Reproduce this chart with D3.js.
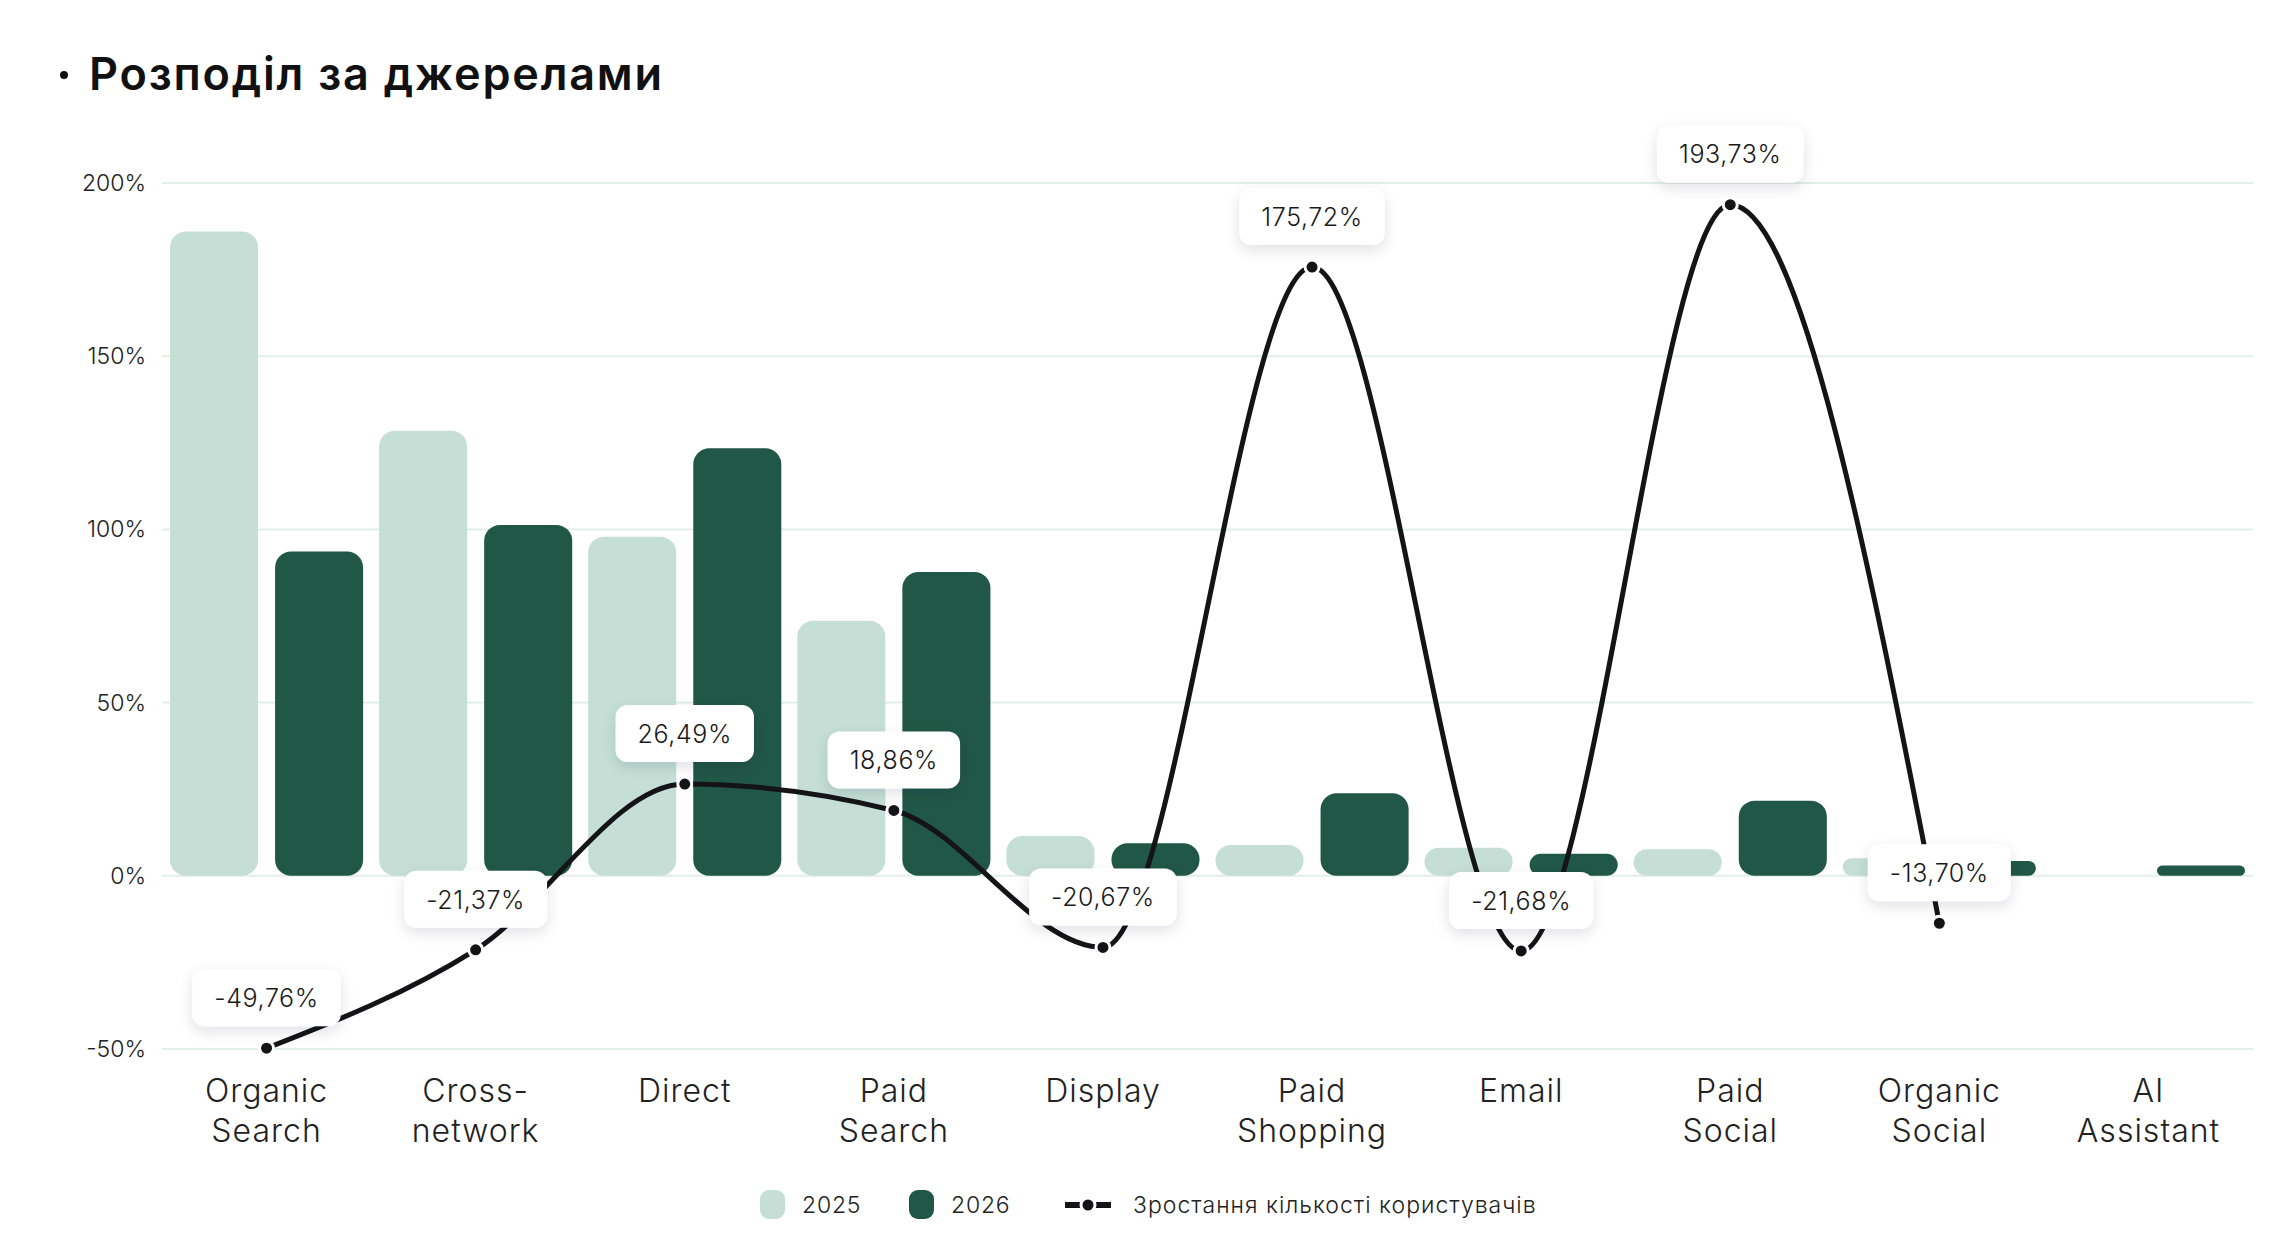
<!DOCTYPE html>
<html>
<head>
<meta charset="utf-8">
<script src="https://cdn.jsdelivr.net/npm/d3@7"></script>
<style>
  body { margin: 0; background: #fff; }
  text { font-family: "Inter", "Noto Sans", sans-serif; }
</style>
</head>
<body>
<div id="chart"></div>
<script>
// Chart Data
const categories = ["Organic Search", "Cross-network", "Direct", "Paid Search", "Display", "Paid Shopping", "Email", "Paid Social", "Organic Social", "AI Assistant"];
const categoryLines = [["Organic", "Search"], ["Cross-", "network"], ["Direct"], ["Paid", "Search"], ["Display"], ["Paid", "Shopping"], ["Email"], ["Paid", "Social"], ["Organic", "Social"], ["AI", "Assistant"]];
const values2025 = [186, 128.5, 97.9, 73.6, 11.5, 8.9, 8.1, 7.7, 5.1, 0];
const values2026 = [93.6, 101.3, 123.4, 87.7, 9.4, 23.8, 6.4, 21.7, 4.3, 3];
const growth = [-49.76, -21.37, 26.49, 18.86, -20.67, 175.72, -21.68, 193.73, -13.70, null];
const yTicks = [-50, 0, 50, 100, 150, 200];
const seriesNames = ["2025", "2026"];
const lineName = "Зростання кількості користувачів";

// Dimensions For SVG Element
let w = 2296, h = 1246;
let svg = d3.select("#chart").append("svg").attr("width", w).attr("height", h);

// Shadow For Value Labels
let defs = svg.append("defs");
defs.append("filter").attr("id", "shadow").attr("x", "-30%").attr("y", "-40%").attr("width", "160%").attr("height", "200%")
  .append("feDropShadow").attr("dx", 0).attr("dy", 5).attr("stdDeviation", 7)
  .attr("flood-color", "#1a1a3a").attr("flood-opacity", 0.12);

let colors = { "2025": "#c5dfd6", "2026": "#215746" };

// Title
svg.append("circle").attr("cx", 64).attr("cy", 75).attr("r", 4).attr("fill", "#111");
svg.append("text").attr("x", 89).attr("y", 90).attr("font-size", 45).attr("font-weight", 600)
  .attr("letter-spacing", 1.8).attr("fill", "#111").text("Розподіл за джерелами");

// Scales
let x = d3.scaleBand().domain(categories).range([162, 2253]).padding(0);
let xSub = d3.scaleBand().domain(seriesNames).range([0, x.bandwidth()]).paddingInner(0.162).paddingOuter(0.076);
let y = d3.scaleLinear().domain([-50, 200]).range([1049, 183]);

// Grid And Y Axis Labels
svg.append("g").selectAll("line").data(yTicks).enter().append("line")
  .attr("x1", 162).attr("x2", 2253).attr("y1", d => y(d)).attr("y2", d => y(d))
  .attr("stroke", "#e2efe5").attr("stroke-width", 2);
svg.append("g").selectAll("text").data(yTicks).enter().append("text")
  .attr("x", 146).attr("y", d => y(d)).attr("dy", "0.35em").attr("text-anchor", "end")
  .attr("font-size", 23).attr("font-weight", 300).attr("fill", "#222").text(d => d + "%");

// Bars
let barData = [];
categories.forEach((c, i) => {
  barData.push({ cat: c, s: "2025", v: values2025[i] });
  barData.push({ cat: c, s: "2026", v: values2026[i] });
});
svg.append("g").selectAll("rect").data(barData.filter(d => d.v > 0)).enter().append("rect")
  .attr("x", d => x(d.cat) + xSub(d.s)).attr("width", xSub.bandwidth())
  .attr("y", d => y(d.v)).attr("height", d => y(0) - y(d.v))
  .attr("rx", d => Math.min(16, (y(0) - y(d.v)) / 2))
  .attr("fill", d => colors[d.s]);

// Growth Line
let pts = categories.map((c, i) => ({ cat: c, v: growth[i] })).filter(d => d.v !== null);
let line = d3.line().x(d => x(d.cat) + x.bandwidth() / 2).y(d => y(d.v)).curve(d3.curveMonotoneX);
svg.append("path").datum(pts).attr("d", line).attr("fill", "none")
  .attr("stroke", "#141417").attr("stroke-width", 5);
svg.append("g").selectAll("circle").data(pts).enter().append("circle")
  .attr("cx", d => x(d.cat) + x.bandwidth() / 2).attr("cy", d => y(d.v)).attr("r", 7)
  .attr("fill", "#141417").attr("stroke", "#fff").attr("stroke-width", 3);

// Value Labels
let fmt = v => v.toFixed(2).replace(".", ",") + "%";
let labels = svg.append("g").selectAll("g").data(pts).enter().append("g")
  .attr("transform", d => `translate(${x(d.cat) + x.bandwidth() / 2},${y(d.v) - 22})`);
labels.append("rect").attr("fill", "#fff").attr("filter", "url(#shadow)");
labels.append("text").attr("text-anchor", "middle").attr("y", -28).attr("dy", "0.35em")
  .attr("font-size", 25).attr("font-weight", 300).attr("letter-spacing", 0.6).attr("fill", "#1a1a1a").text(d => fmt(d.v));
labels.each(function () {
  let g = d3.select(this);
  let tw = g.select("text").node().getComputedTextLength();
  g.select("rect").attr("x", -tw / 2 - 22).attr("y", -57).attr("width", tw + 44).attr("height", 57).attr("rx", 12);
});

// X Axis Labels
let xl = svg.append("g").selectAll("text").data(categories).enter().append("text")
  .attr("x", d => x(d) + x.bandwidth() / 2).attr("y", 1102).attr("text-anchor", "middle")
  .attr("font-size", 32).attr("font-weight", 300).attr("letter-spacing", 1).attr("fill", "#222");
xl.selectAll("tspan").data((d, i) => categoryLines[i]).enter().append("tspan")
  .attr("x", function () { return d3.select(this.parentNode).attr("x"); })
  .attr("dy", (d, i) => i == 0 ? 0 : 40).text(d => d);

// Legend
let legend = svg.append("g");
let legendX = [760, 909];
seriesNames.forEach((s, i) => {
  legend.append("rect").attr("x", legendX[i]).attr("y", 1190).attr("width", 25).attr("height", 29).attr("rx", 9).attr("fill", colors[s]);
  legend.append("text").attr("x", legendX[i] + 42).attr("y", 1205).attr("dy", "0.35em").attr("font-size", 23)
    .attr("font-weight", 300).attr("letter-spacing", 0.8).attr("fill", "#222").text(s);
});
legend.append("line").attr("x1", 1065).attr("x2", 1111).attr("y1", 1205).attr("y2", 1205).attr("stroke", "#141417").attr("stroke-width", 6);
legend.append("circle").attr("cx", 1088).attr("cy", 1205).attr("r", 7).attr("fill", "#141417").attr("stroke", "#fff").attr("stroke-width", 3);
legend.append("text").attr("x", 1133).attr("y", 1205).attr("dy", "0.35em").attr("font-size", 23)
  .attr("font-weight", 300).attr("letter-spacing", 1).attr("fill", "#222").text(lineName);
</script>
</body>
</html>
